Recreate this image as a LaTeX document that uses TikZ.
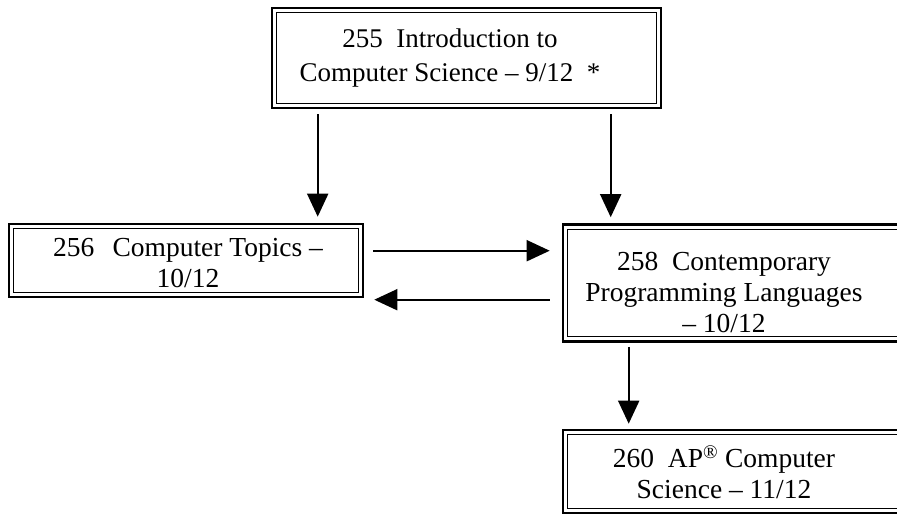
\documentclass[tikz,border=0pt]{standalone}
\usepackage{fontspec}
\setmainfont{Liberation Serif}
\usetikzlibrary{arrows.meta}
\tikzset{
  box/.style={draw=black, line width=2.6pt, inner sep=0pt},
  innerline/.style={draw=black, line width=1.3pt},
  lbl/.style={align=center, inner sep=0pt, font=\fontsize{27.5}{31}\selectfont},
  arr/.style={line width=1.8pt, -{Triangle[width=21pt,length=23pt]}},
}
\begin{document}
\begin{tikzpicture}[x=1pt,y=-1pt]
\useasboundingbox[fill=white] (0,0) rectangle (897,515);
% boxes
\node[box, minimum width=389pt, minimum height=100pt] (a) at (466.5,58) {};
\node[box, minimum width=354pt, minimum height=73pt] (b) at (186,260.5) {};
\node[box, minimum width=357pt, minimum height=117pt] (c) at (741.5,283) {};
\node[box, minimum width=357pt, minimum height=83pt] (e) at (741.5,471.5) {};
\foreach \n in {a,b,c,e}
  \draw[innerline] ([shift={(6pt,-6pt)}]\n.north west) rectangle ([shift={(-6pt,6pt)}]\n.south east);
% texts
\node[lbl, font=\fontsize{27}{34}\selectfont] (at) at (450,58) {255~~Introduction to\\Computer Science -- 9/12~~*};
\node[lbl] (bt) at (188,263) {256~~\,Computer Topics --\\10/12};
\node[lbl] (ct) at (724,292) {258~~Contemporary\\Programming Languages\\-- 10/12};
\node[lbl] (et) at (724,472) {260~~AP\textsuperscript{\textregistered} Computer\\Science -- 11/12};
% connector anchors
\coordinate (a1) at ([xshift=47pt]a.south west);
\coordinate (a2) at ([xshift=340pt]a.south west);
\coordinate (b1) at ([yshift=-28pt]b.north east);
\coordinate (b2) at ([yshift=-77pt]b.north east);
\coordinate (c1) at ([xshift=67pt]c.south west);
% connectors
\draw[arr, shorten <=5pt, shorten >=6pt] (a1) -- (a1 |- b.north);
\draw[arr, shorten <=5pt, shorten >=6pt] (a2) -- (a2 |- c.north);
\draw[arr, shorten <=9pt, shorten >=12pt] (b1) -- (b1 -| c.west);
\draw[arr, shorten <=12pt, shorten >=10pt] (b2 -| c.west) -- (b2);
\draw[arr, shorten <=4pt, shorten >=5pt] (c1) -- (c1 |- e.north);
\end{tikzpicture}
\end{document}
